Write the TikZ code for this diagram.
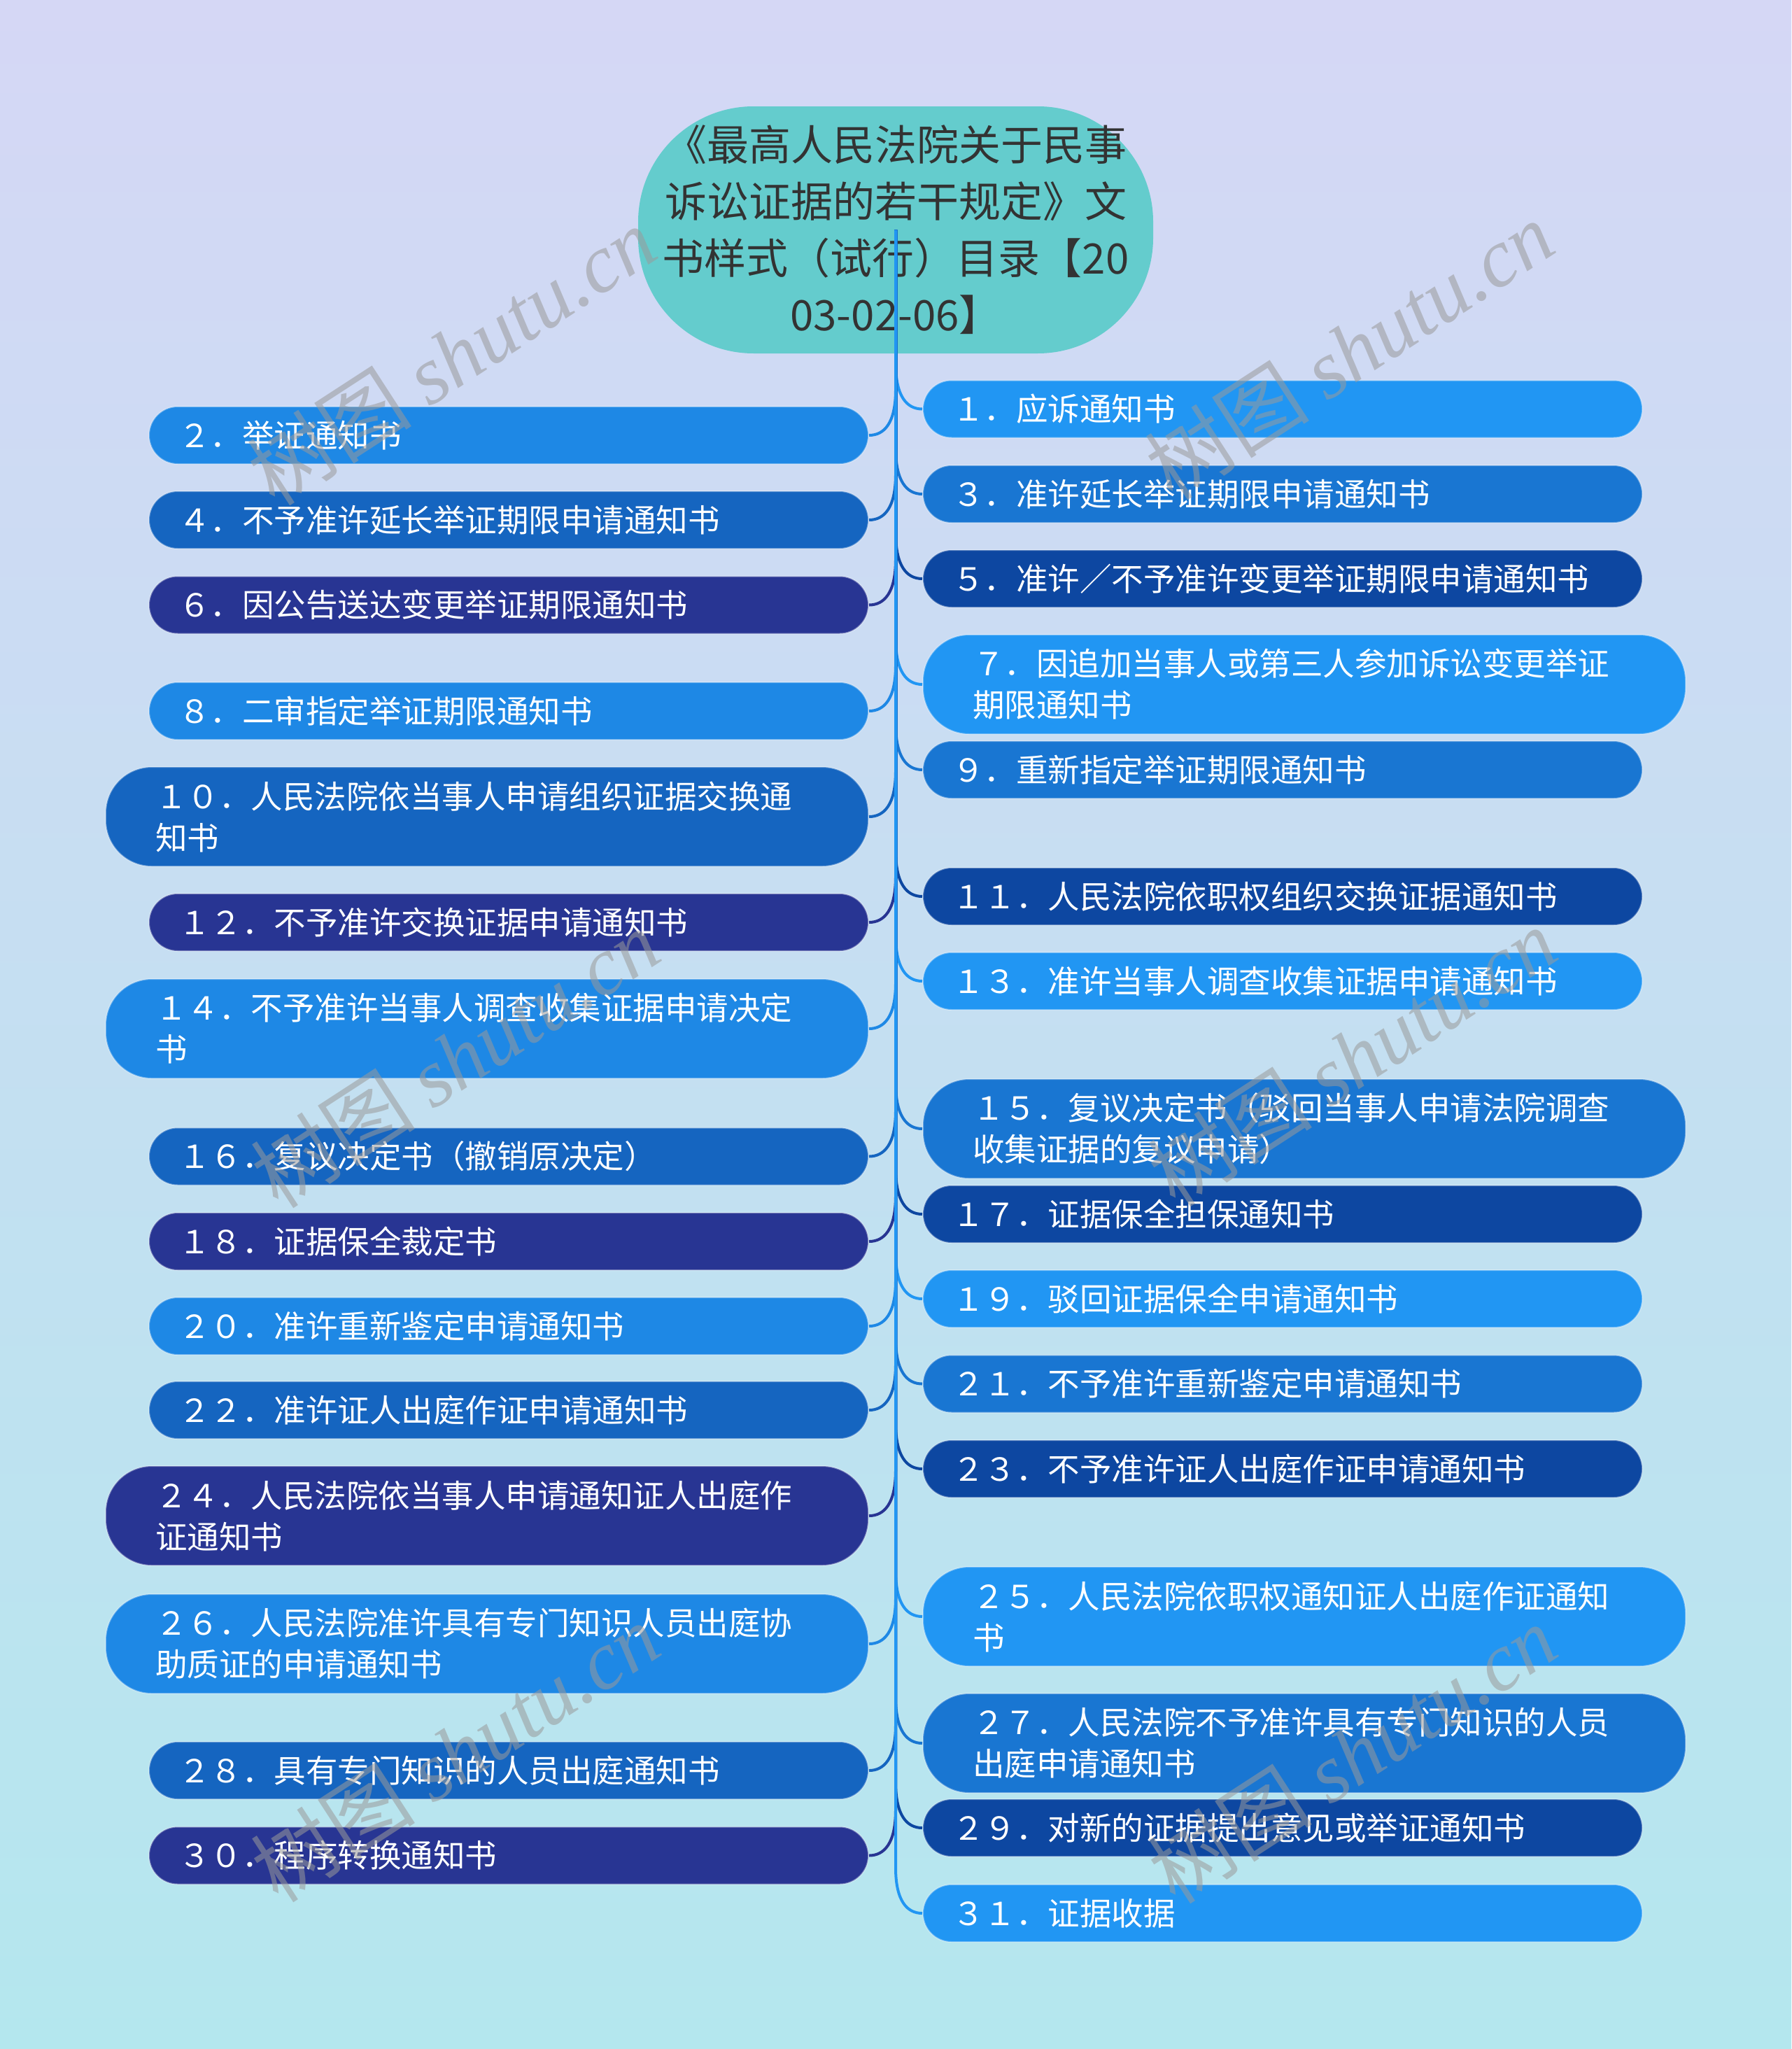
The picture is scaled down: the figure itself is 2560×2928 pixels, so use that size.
\documentclass[tikz,border=0pt]{standalone}
\usepackage{fontspec}
\setmainfont{Noto Sans CJK SC}
\newfontfamily\wmlatin{Liberation Serif}
\usetikzlibrary{calc}
\definecolor{bgtop}{HTML}{D5D7F5}
\definecolor{bgbot}{HTML}{B4E7EE}
\definecolor{rootc}{HTML}{64CCCD}
\definecolor{txtc}{HTML}{333333}
\definecolor{cA}{HTML}{2196F3}
\definecolor{cB}{HTML}{1976D2}
\definecolor{cC}{HTML}{0D47A1}
\definecolor{cD}{HTML}{1E88E5}
\definecolor{cE}{HTML}{1565C0}
\definecolor{cF}{HTML}{283593}
\definecolor{wmc}{HTML}{9A9A9A}
\tikzset{
  rootbox/.style={fill=rootc, rounded corners=165pt, minimum width=736pt, minimum height=353pt,
    inner sep=0pt, align=center, text=txtc, font=\fontsize{60}{81}\selectfont},
  box/.style={rounded corners=41pt, minimum height=82pt, minimum width=1028pt, text width=944pt,
    inner xsep=42pt, inner ysep=0pt, align=left, text=white, font=\fontsize{45.5}{59}\selectfont,
    draw=white, draw opacity=0.35, line width=2pt},
  boxtwo/.style={box, rounded corners=66pt, minimum height=142pt, minimum width=1090pt,
    text width=948pt, inner xsep=71pt},
  conn/.style={line width=4pt},
  wm/.style={text=wmc, opacity=0.55, font=\fontsize{118}{120}\selectfont, inner sep=0pt}
}
\begin{document}
\begin{tikzpicture}[x=1pt,y=-1pt]
\useasboundingbox (0,0) rectangle (2560,2928);
\shade[top color=bgtop, bottom color=bgbot] (0,0) rectangle (2560,2928);

\node[rootbox] (root) at (1280,328.5) {《最高人民法院关于民事\\诉讼证据的若干规定》文\\书样式（试行）目录【20\\03-02-06】};

% right column
\node[box, fill=cA, anchor=west] (b1) at (1318,584.5) {１．应诉通知书};
\node[box, fill=cB, anchor=west] (b3) at (1318,706) {３．准许延长举证期限申请通知书};
\node[box, fill=cC, anchor=west] (b5) at (1318,827) {５．准许／不予准许变更举证期限申请通知书};
\node[boxtwo, fill=cA, anchor=west] (b7) at (1318,978) {７．因追加当事人或第三人参加诉讼变更举证\\期限通知书};
\node[box, fill=cB, anchor=west] (b9) at (1318,1100) {９．重新指定举证期限通知书};
\node[box, fill=cC, anchor=west] (b11) at (1318,1281) {１１．人民法院依职权组织交换证据通知书};
\node[box, fill=cA, anchor=west] (b13) at (1318,1402) {１３．准许当事人调查收集证据申请通知书};
\node[boxtwo, fill=cB, anchor=west] (b15) at (1318,1613) {１５．复议决定书（驳回当事人申请法院调查\\收集证据的复议申请）};
\node[box, fill=cC, anchor=west] (b17) at (1318,1735) {１７．证据保全担保通知书};
\node[box, fill=cA, anchor=west] (b19) at (1318,1856) {１９．驳回证据保全申请通知书};
\node[box, fill=cB, anchor=west] (b21) at (1318,1977.5) {２１．不予准许重新鉴定申请通知书};
\node[box, fill=cC, anchor=west] (b23) at (1318,2099) {２３．不予准许证人出庭作证申请通知书};
\node[boxtwo, fill=cA, anchor=west] (b25) at (1318,2310) {２５．人民法院依职权通知证人出庭作证通知\\书};
\node[boxtwo, fill=cB, anchor=west] (b27) at (1318,2491) {２７．人民法院不予准许具有专门知识的人员\\出庭申请通知书};
\node[box, fill=cC, anchor=west] (b29) at (1318,2612) {２９．对新的证据提出意见或举证通知书};
\node[box, fill=cA, anchor=west] (b31) at (1318,2734) {３１．证据收据};

% left column
\node[box, fill=cD, anchor=east] (b2) at (1242,622) {２．举证通知书};
\node[box, fill=cE, anchor=east] (b4) at (1242,743) {４．不予准许延长举证期限申请通知书};
\node[box, fill=cF, anchor=east] (b6) at (1242,864.5) {６．因公告送达变更举证期限通知书};
\node[box, fill=cD, anchor=east] (b8) at (1242,1016) {８．二审指定举证期限通知书};
\node[boxtwo, fill=cE, anchor=east] (b10) at (1242,1167) {１０．人民法院依当事人申请组织证据交换通\\知书};
\node[box, fill=cF, anchor=east] (b12) at (1242,1318) {１２．不予准许交换证据申请通知书};
\node[boxtwo, fill=cD, anchor=east] (b14) at (1242,1470) {１４．不予准许当事人调查收集证据申请决定\\书};
\node[box, fill=cE, anchor=east] (b16) at (1242,1652.5) {１６．复议决定书（撤销原决定）};
\node[box, fill=cF, anchor=east] (b18) at (1242,1774) {１８．证据保全裁定书};
\node[box, fill=cD, anchor=east] (b20) at (1242,1895) {２０．准许重新鉴定申请通知书};
\node[box, fill=cE, anchor=east] (b22) at (1242,2015) {２２．准许证人出庭作证申请通知书};
\node[boxtwo, fill=cF, anchor=east] (b24) at (1242,2166) {２４．人民法院依当事人申请通知证人出庭作\\证通知书};
\node[boxtwo, fill=cD, anchor=east] (b26) at (1242,2349) {２６．人民法院准许具有专门知识人员出庭协\\助质证的申请通知书};
\node[box, fill=cE, anchor=east] (b28) at (1242,2530) {２８．具有专门知识的人员出庭通知书};
\node[box, fill=cF, anchor=east] (b30) at (1242,2651.5) {３０．程序转换通知书};

% connectors
\foreach \n/\c in {b2/cD,b4/cE,b6/cF,b8/cD,b10/cE,b12/cF,b14/cD,b16/cE,b18/cF,b20/cD,b22/cE,b24/cF,b26/cD,b28/cE,b30/cF}{
  \draw[conn, draw=\c] (root.center) -- ($(\n.east)+(38,-65)$)
    .. controls ($(\n.east)+(38,-18)$) and ($(\n.east)+(22,0)$) .. (\n.east);
}
\foreach \n/\c in {b1/cA,b3/cB,b5/cC,b7/cA,b9/cB,b11/cC,b13/cA,b15/cB,b17/cC,b19/cA,b21/cB,b23/cC,b25/cA,b27/cB,b29/cC,b31/cA}{
  \draw[conn, draw=\c] (root.center) -- ($(\n.west)+(-38,-65)$)
    .. controls ($(\n.west)+(-38,-18)$) and ($(\n.west)+(-22,0)$) .. (\n.west);
}
\draw[conn, draw=cA] (root.center) -- ($(b31.west)+(-38,-65)$);

% watermarks
\node[wm, rotate=33] (w1) at (645,508) {树图 {\wmlatin\itshape shutu.cn}};
\node[wm, rotate=33] (w2) at (1928,500) {树图 {\wmlatin\itshape shutu.cn}};
\node[wm, rotate=33] (w3) at (650,1512) {树图 {\wmlatin\itshape shutu.cn}};
\node[wm, rotate=33] (w4) at (1932,1510) {树图 {\wmlatin\itshape shutu.cn}};
\node[wm, rotate=33] (w5) at (650,2504) {树图 {\wmlatin\itshape shutu.cn}};
\node[wm, rotate=33] (w6) at (1932,2506) {树图 {\wmlatin\itshape shutu.cn}};
\end{tikzpicture}
\end{document}
